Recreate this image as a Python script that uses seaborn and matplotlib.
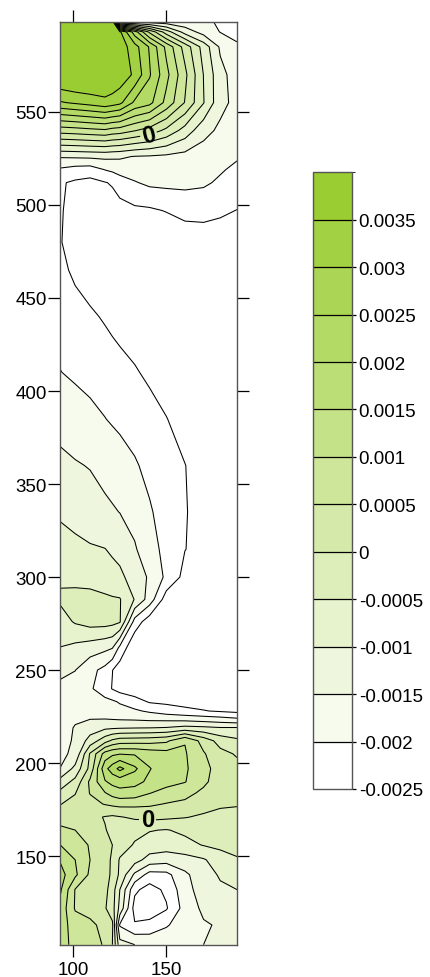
import numpy as np
import matplotlib
matplotlib.use("Agg")
import matplotlib.pyplot as plt
from matplotlib.colors import LinearSegmentedColormap, BoundaryNorm
import seaborn as sns

# ---------------- data ----------------
# grid node positions
x_nodes = [93, 101, 109, 117, 121, 125, 133, 141, 150, 160, 170, 179, 188]
y_nodes = [102.4, 113, 122, 132, 140, 148, 156, 164, 171, 178,
           184, 190, 197, 205, 212, 219, 224, 228, 233, 240,
           250, 262, 276, 288, 300, 315, 335, 360, 385, 410,
           440, 465, 480, 497, 512, 519, 526, 540, 555, 570,
           585, 593, 598.5]

# field values at the nodes, in units of 1e-3 (one row per y node, bottom to top)
z_rows_e3 = [
    [1.2, 0.85, 0.7, 0.45, 0.0, -1.3, -1.5, -1.6, -1.65, -1.6, -1.5, -1.45, -1.4],
    [1.25, 0.75, 0.65, 0.3, 0.1, -2.05, -2.45, -2.35, -2.05, -1.75, -1.55, -1.45, -1.4],
    [1.35, 0.45, 0.25, 0.05, -0.3, -1.15, -2.7, -2.8, -2.55, -1.8, -1.4, -1.2, -1.1],
    [1.575, 0.475, 0.35, 0.15, -0.25, -1.0, -2.4, -2.7, -2.4, -1.7, -1.25, -1.075, -1.0],
    [1.7, 1.1, 0.4, 0.2, -0.1, -0.6, -1.6, -2.2, -2.15, -1.6, -1.2, -0.95, -0.85],
    [1.45, 1.0, 0.5, 0.25, -0.1, -0.55, -0.8, -1.2, -1.3, -1.2, -1.05, -0.75, -0.55],
    [1.0, 0.8, 0.45, 0.25, 0.0, -0.25, -0.55, -0.7, -0.75, -0.65, -0.475, -0.375, -0.325],
    [0.6, 0.5, 0.3, 0.025, -0.1, -0.2, -0.35, -0.475, -0.525, -0.4, -0.25, -0.2, -0.175],
    [0.3, 0.25, 0.125, -0.025, -0.075, -0.025, 0.075, 0.15, 0.1, 0.025, -0.075, -0.1, -0.1],
    [-0.015, 0.15, 0.35, 0.525, 0.6, 0.65, 0.625, 0.575, 0.475, 0.4, 0.2, 0.05, 0.025],
    [-0.375, -0.025, 0.525, 0.975, 1.2, 1.35, 1.3, 1.025, 0.8, 0.65, 0.4, 0.2, 0.125],
    [-0.8, -0.35, 0.6, 1.45, 1.65, 1.7, 1.65, 1.4, 1.2, 1.025, 0.6, 0.25, 0.175],
    [-1.49, -0.85, 0.15, 1.85, 2.25, 2.65, 2.1, 1.525, 1.25, 1.075, 0.65, 0.3, 0.15],
    [-1.6, -1.4, 0.05, 1.2, 1.4, 1.475, 1.45, 1.3, 1.2, 1.05, 0.55, 0.15, -0.05],
    [-1.64, -1.45, -0.8, -0.2, 0.1, 0.25, 0.275, 0.3, 0.4, 0.975, 0.3, -0.2, -0.4],
    [-1.65, -1.475, -1.25, -1.1, -1.075, -1.05, -1.025, -1.01, -0.975, -0.85, -0.9, -0.975, -0.975],
    [-1.65, -1.55, -1.525, -1.525, -1.55, -1.575, -1.6, -1.65, -1.675, -1.725, -1.8, -1.875, -1.975],
    [-1.65, -1.64, -1.7, -1.75, -1.775, -1.825, -1.925, -2.075, -2.25, -2.375, -2.475, -2.55, -2.625],
    [-1.64, -1.675, -1.75, -1.85, -1.925, -2.05, -2.275, -2.55, -2.6, -2.675, -2.7, -2.7, -2.7],
    [-1.6, -1.7, -1.925, -2.3, -2.525, -2.7, -2.85, -2.85, -2.8, -2.75, -2.725, -2.7, -2.7],
    [-1.4, -1.49, -1.85, -2.15, -2.49, -2.75, -3.0, -3.0, -3.0, -3.0, -2.95, -2.9, -2.85],
    [-1.01, -1.125, -1.25, -1.375, -1.475, -2.125, -2.95, -3.0, -3.0, -3.0, -3.0, -2.95, -2.9],
    [-0.71, -0.45, -0.3, -0.3, -0.35, -0.45, -2.2, -2.8, -2.9, -2.95, -2.95, -2.9, -2.85],
    [-0.425, -0.39, -0.39, -0.425, -0.45, -0.47, -1.025, -1.725, -2.75, -2.9, -2.9, -2.9, -2.85],
    [-0.575, -0.6, -0.625, -0.725, -0.825, -0.9, -1.2, -1.575, -2.1, -2.65, -2.75, -2.8, -2.8],
    [-0.79, -0.875, -0.95, -0.99, -1.075, -1.15, -1.45, -1.8, -2.15, -2.49, -2.65, -2.75, -2.8],
    [-1.075, -1.175, -1.275, -1.4, -1.45, -1.51, -1.675, -1.95, -2.2, -2.475, -2.65, -2.75, -2.8],
    [-1.385, -1.46, -1.525, -1.65, -1.725, -1.8, -1.95, -2.125, -2.3, -2.49, -2.7, -2.8, -2.85],
    [-1.67, -1.775, -1.875, -1.99, -2.05, -2.1, -2.2, -2.3, -2.485, -2.7, -2.85, -2.9, -2.9],
    [-1.99, -2.075, -2.15, -2.225, -2.275, -2.325, -2.45, -2.6, -2.75, -2.9, -2.95, -2.95, -2.9],
    [-2.2, -2.3, -2.425, -2.55, -2.625, -2.7, -2.8, -2.9, -2.95, -3.0, -3.0, -2.95, -2.9],
    [-2.375, -2.6, -2.75, -2.85, -2.9, -2.95, -3.0, -3.0, -3.0, -2.95, -2.9, -2.85, -2.8],
    [-2.475, -2.7, -2.85, -2.95, -3.0, -3.0, -3.0, -3.0, -2.95, -2.8, -2.75, -2.75, -2.75],
    [-2.45, -2.7, -2.8, -2.8, -2.75, -2.7, -2.6, -2.575, -2.475, -2.35, -2.35, -2.425, -2.51],
    [-2.45, -2.575, -2.65, -2.525, -2.45, -2.25, -2.035, -1.9, -1.875, -1.875, -1.925, -2.075, -2.225],
    [-2.075, -2.2, -2.24, -1.985, -1.9, -1.805, -1.77, -1.755, -1.755, -1.78, -1.835, -1.95, -2.1],
    [-1.45, -1.425, -1.4, -1.375, -1.4, -1.425, -1.525, -1.55, -1.6, -1.675, -1.75, -1.85, -1.95],
    [0.72, 0.775, 0.85, 0.915, 0.8, 0.75, 0.525, 0.285, -0.125, -0.7, -1.335, -1.6, -1.75],
    [2.95, 3.075, 3.2, 3.35, 3.25, 3.125, 2.4, 2.15, 1.35, 0.475, -0.475, -1.35, -1.65],
    [4.1, 4.2, 4.2, 4.1, 4.025, 3.85, 3.4, 2.55, 1.65, 0.625, -0.51, -1.35, -1.725],
    [4.15, 4.25, 4.25, 4.15, 4.025, 3.8, 3.2, 2.45, 1.375, 0.3, -0.7, -1.575, -1.95],
    [4.15, 4.25, 4.25, 4.15, 4.025, 3.6, 2.25, 0.9, -0.25, -1.2, -1.7, -2.015, -2.1],
    [4.15, 4.25, 4.25, 4.15, 4.025, -1.75, -1.75, -1.775, -1.8, -1.85, -1.925, -2.05, -2.15],
]

# contour levels (colour-key boundaries) and their labels
levels = [-0.0025, -0.002, -0.0015, -0.001, -0.0005, 0.0, 0.0005,
          0.001, 0.0015, 0.002, 0.0025, 0.003, 0.0035, 0.004]
level_labels = ["-0.0025", "-0.002", "-0.0015", "-0.001", "-0.0005", "0",
                "0.0005", "0.001", "0.0015", "0.002", "0.0025", "0.003", "0.0035"]
x_ticks = [100, 150]
y_ticks = [150, 200, 250, 300, 350, 400, 450, 500, 550]
zero_label_spots = [(140.5, 537.7), (139.8, 168.0)]

# ---------------- style ----------------
sns.set_style("ticks")
plt.rcParams["font.family"] = ["Liberation Sans", "DejaVu Sans"]
plt.rcParams["axes.unicode_minus"] = False
plt.rcParams["contour.negative_linestyle"] = "solid"
plt.rcParams["text.color"] = "black"
plt.rcParams["xtick.color"] = "black"
plt.rcParams["ytick.color"] = "black"
plt.rcParams["xtick.labelcolor"] = "black"
plt.rcParams["ytick.labelcolor"] = "black"

W, H, DPI = 431, 978, 100
fig = plt.figure(figsize=(W / DPI, H / DPI), dpi=DPI, facecolor="white")

ax = fig.add_axes([60.3 / W, 1 - 945.7 / H, (237 - 60.3) / W, (945.7 - 22.7) / H])
cax = fig.add_axes([313.3 / W, 1 - 790 / H, (351.7 - 313.3) / W, (790 - 173.3) / H])

X, Y = np.meshgrid(np.array(x_nodes, float), np.array(y_nodes, float))
Z = np.array(z_rows_e3, float) * 1e-3

n_bands = len(levels) - 1
cmap = LinearSegmentedColormap.from_list("wg", ["#ffffff", "#9acd32"], N=n_bands)
norm = BoundaryNorm(levels, n_bands)

# fill (values beyond the key range take the end colours)
Zf = np.clip(Z, levels[0] + 1e-7, levels[-1] - 1e-7)
cf = ax.contourf(X, Y, Zf, levels=levels, cmap=cmap, norm=norm)

line_levels = [v for v in levels[:-1] if v != 0.0]
ax.contour(X, Y, Z, levels=line_levels, colors="black", linewidths=0.75,
           linestyles="solid")
cs0 = ax.contour(X, Y, Z, levels=[0.0], colors="black", linewidths=0.75,
                 linestyles="solid")

ax.set_xlim(93, 188)
ax.set_ylim(102.4, 598.5)

ax.clabel(cs0, manual=zero_label_spots, fmt=lambda v: "0",
          fontsize=17, inline=True, inline_spacing=2, colors="black")
for t in cs0.labelTexts:
    t.set_fontweight("bold")

ax.set_xticks(x_ticks)
ax.set_yticks(y_ticks)
ax.tick_params(axis="both", direction="out", length=8.3, width=0.9, color="black",
               labelcolor="black", labelsize=13.5, top=True, right=True,
               labeltop=False, labelright=False)
ax.tick_params(axis="x", pad=3.5)
ax.tick_params(axis="y", pad=1.5)
for s in ax.spines.values():
    s.set_visible(True)
    s.set_color("#555555")
    s.set_linewidth(1.0)
ax.set_facecolor("white")

# colour key
cb = fig.colorbar(cf, cax=cax, ticks=levels[:-1], drawedges=True)
cb.ax.set_yticklabels(level_labels)
cb.ax.tick_params(axis="y", direction="out", length=3, width=0.9, pad=2,
                  labelsize=13.5, color="black", labelcolor="black",
                  right=True, left=False)
cb.dividers.set_color("black")
cb.dividers.set_linewidth(0.9)
cb.outline.set_edgecolor("#555555")
cb.outline.set_linewidth(1.0)

fig.savefig("out.png", dpi=DPI, facecolor="white")
